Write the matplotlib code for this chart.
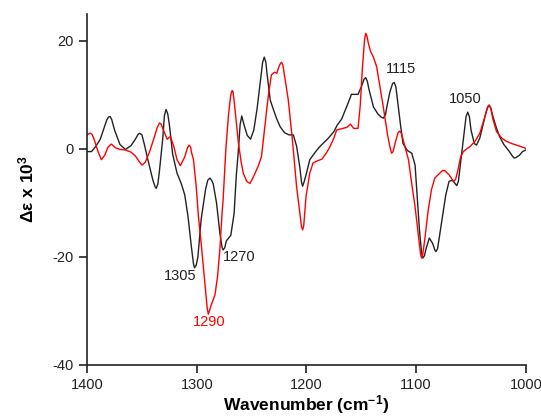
import matplotlib
matplotlib.use("Agg")
import matplotlib.pyplot as plt
import numpy as np

plt.rcParams['font.family'] = ['Liberation Sans', 'DejaVu Sans']
plt.rcParams['axes.unicode_minus'] = False
plt.rcParams['mathtext.default'] = 'regular'

# Чёрный спектр (волновое число, Δε x 10^3)
black_x = [1400, 1396, 1392, 1388, 1385, 1382, 1380.5, 1379, 1377.5, 1375, 1370, 1365,
           1360, 1356, 1353.5, 1352, 1350, 1348, 1344, 1340, 1338, 1337, 1335.5, 1334,
           1331, 1329.5, 1328, 1326.5, 1325, 1322, 1318, 1314, 1311, 1308, 1305, 1303,
           1302, 1300.5, 1299, 1296, 1292, 1290, 1288, 1286.5, 1285, 1282, 1279, 1277,
           1276, 1274.5, 1273, 1269, 1266, 1264, 1262, 1260.5, 1259, 1257, 1254, 1251,
           1248, 1245, 1242, 1240, 1238.5, 1237, 1236, 1233, 1230, 1227, 1224, 1220,
           1216, 1212, 1209, 1206, 1204.5, 1203.5, 1202, 1200, 1197, 1192, 1188, 1180,
           1175, 1172, 1168, 1163, 1159, 1153, 1150, 1147.5, 1146, 1144.5, 1143, 1139,
           1135, 1132, 1130, 1128, 1127, 1124, 1121.5, 1120, 1118.5, 1117, 1114, 1112,
           1108, 1104, 1101, 1099, 1097, 1095, 1094, 1092.5, 1091, 1088, 1085, 1083,
           1082, 1080.5, 1079, 1076, 1073, 1070, 1067, 1065, 1063, 1061.5, 1060, 1058,
           1056, 1054.5, 1053, 1051.5, 1050, 1047, 1045, 1042, 1039, 1036, 1034.5, 1033.5,
           1032, 1030, 1027, 1024, 1020, 1015, 1012, 1010.6, 1009, 1006, 1003, 1000]
black_y = [-0.5, -0.5, 0.5, 1.8, 3.6, 5.4, 5.9, 6.0, 5.4, 3.5, 0.8, -0.1,
           0.6, 1.8, 2.7, 2.9, 2.6, 1.0, -2.5, -5.8, -7.0, -7.3, -6.5, -4.0,
           2.0, 6.2, 7.3, 6.5, 4.5, -1.0, -4.5, -6.5, -8.5, -12.5, -18.0, -21.3,
           -22.0, -21.5, -20.0, -13.0, -7.5, -5.8, -5.4, -5.8, -6.5, -10.0, -15.5, -18.2,
           -18.7, -18.3, -17.0, -16.0, -12.0, -5.0, 0.0, 4.5, 6.1, 4.5, 2.5, 1.8,
           3.5, 7.5, 12.5, 16.0, 17.0, 16.0, 14.0, 9.0, 7.2, 5.5, 4.1, 3.0,
           2.6, 2.6, 0.5, -3.5, -6.2, -6.9, -6.0, -4.5, -2.0, -0.6, 0.4, 2.0,
           3.2, 4.4, 5.5, 8.0, 10.1, 10.1, 11.5, 12.9, 13.2, 12.5, 11.0, 7.8,
           6.5, 5.9, 5.7, 6.3, 7.5, 10.5, 12.1, 12.3, 11.5, 9.0, 4.0, 1.0,
           -0.3, -0.8, -3.0, -9.0, -15.0, -19.3, -20.2, -19.8, -18.5, -16.5, -17.5, -18.7,
           -19.0, -18.5, -16.5, -12.5, -8.5, -6.0, -5.8, -6.3, -6.8, -6.0, -3.5, 0.0,
           3.5, 6.0, 6.8, 6.0, 3.5, 1.0, 0.7, 2.0, 4.5, 7.0, 7.9, 8.1,
           7.6, 6.0, 4.0, 2.3, 0.8, -0.5, -1.4, -1.7, -1.6, -1.2, -0.5, -0.2]

# Красный спектр
red_x = [1400, 1398.5, 1397, 1395.5, 1394, 1390, 1387, 1384, 1381, 1378, 1374, 1370,
         1365, 1360, 1356, 1353, 1350, 1347, 1343, 1339, 1336, 1334, 1332.5, 1331,
         1327, 1324, 1321, 1318, 1315, 1311, 1308.5, 1307, 1305.5, 1305, 1303, 1300.5,
         1298.5, 1296, 1294, 1291.5, 1290.5, 1289.5, 1288.5, 1287, 1283.4, 1281, 1279, 1277,
         1276, 1273.5, 1271, 1269, 1268, 1267.6, 1267, 1266, 1264, 1262, 1259.5, 1257.6,
         1254.5, 1251.5, 1248, 1244, 1241, 1238, 1235, 1232, 1229, 1227, 1225, 1223.5,
         1222.6, 1221.5, 1220, 1216.6, 1213, 1209, 1206, 1204.5, 1203.5, 1202.5, 1200.5, 1197,
         1194, 1190, 1186, 1182, 1178.6, 1175, 1172.5, 1167, 1163, 1160, 1157, 1153,
         1151, 1149, 1147, 1146, 1145, 1143.5, 1141.5, 1139, 1136, 1133, 1130, 1126,
         1123.5, 1122.4, 1121, 1119, 1116.5, 1115, 1113.5, 1111, 1107, 1104, 1101, 1098,
         1096, 1095, 1094, 1092, 1089, 1086, 1083, 1079, 1076, 1074, 1070, 1067,
         1065.6, 1064, 1062, 1059.5, 1057, 1054, 1051, 1046, 1042, 1038, 1035, 1033.5,
         1032, 1030, 1026.7, 1022, 1017.6, 1013, 1008.5, 1004, 1000]
red_y = [2.6, 2.8, 2.9, 2.7, 2.0, -0.5, -2.0, -1.2, 0.3, 0.9, 0.2, -0.1,
         -0.2, -0.6, -1.3, -2.2, -3.0, -2.5, -0.5, 2.0, 4.0, 4.8, 4.6, 3.8,
         1.8, 2.3, 0.5, -2.0, -3.1, -1.5, 0.2, 0.7, 0.3, -0.5, -2.0, -7.0,
         -12.5, -17.5, -21.8, -27.0, -29.5, -30.6, -30.0, -29.0, -27.0, -23.5, -18.7, -12.0,
         -9.4, 0.0, 6.5, 10.0, 10.7, 10.8, 10.6, 9.0, 5.0, 1.0, -2.5, -4.5,
         -6.0, -6.4, -5.0, -3.2, -1.4, 4.1, 9.5, 13.7, 14.2, 14.0, 15.3, 15.9,
         16.0, 15.5, 13.5, 9.1, 2.0, -7.0, -12.0, -14.4, -15.0, -14.2, -9.0, -4.5,
         -2.6, -2.2, -1.9, -0.8, 0.4, 2.0, 3.5, 3.8, 4.0, 4.6, 3.8, 3.8,
         8.0, 15.0, 20.3, 21.4, 21.0, 19.5, 18.0, 17.0, 15.2, 11.5, 7.8, 2.5,
         0.0, -0.8, -0.5, 1.2, 3.0, 3.3, 2.9, 1.0, -2.0, -6.5, -10.7, -16.0,
         -19.5, -20.2, -19.6, -16.5, -11.3, -7.5, -5.4, -4.6, -4.0, -4.0, -4.8, -5.7,
         -6.0, -5.6, -4.0, -1.5, -0.5, 0.0, 0.4, 1.5, 2.9, 5.5, 7.6, 8.1,
         7.5, 5.5, 3.2, 2.0, 1.4, 1.0, 0.7, 0.4, 0.1]

# Подписи пиков
peak_labels = ['1305', '1270', '1290', '1115', '1050']
peak_x = [1315, 1261, 1289, 1114, 1055]
peak_y = [-23.5, -20.0, -32.0, 14.8, 9.3]
peak_colors = ['#222222', '#222222', 'red', '#222222', '#222222']

fig = plt.figure(figsize=(5.41, 4.20), dpi=100)
ax = fig.add_axes([0.161, 0.131, 0.811, 0.836])

ax.plot(black_x, black_y, color='#222222', lw=1.0, solid_joinstyle='round')
ax.plot(red_x, red_y, color='red', lw=1.0, solid_joinstyle='round')

for lbl, x, y, c in zip(peak_labels, peak_x, peak_y, peak_colors):
    ax.text(x, y, lbl, color=c, fontsize=10.5, ha='center', va='center')

ax.set_xlim(1400, 1000)
ax.set_ylim(-40, 25)
ax.set_xticks([1400, 1300, 1200, 1100, 1000])
ax.set_yticks([-40, -20, 0, 20])
ax.spines['top'].set_visible(False)
ax.spines['right'].set_visible(False)
for s in ['left', 'bottom']:
    ax.spines[s].set_linewidth(1.2)
    ax.spines[s].set_color('#222222')
ax.tick_params(direction='out', length=6, width=1.2, labelsize=10.5, colors='#222222')

ax.set_xlabel('Wavenumber (cm$^{-1}$)', fontsize=12.5, fontweight='bold', labelpad=1)
ax.set_ylabel('Δε x 10$^3$', fontsize=12.5, fontweight='bold', labelpad=12)

fig.savefig('out.png', dpi=100)
